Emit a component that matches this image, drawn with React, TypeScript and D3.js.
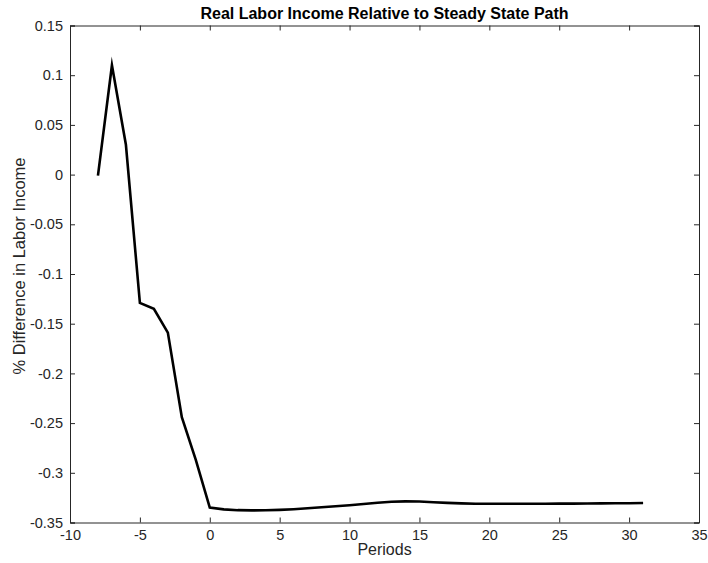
import React, { useEffect, useRef } from 'react';
import * as d3 from 'd3';

const periods = [-8, -7, -6, -5, -4, -3, -2, -1, 0, 1, 2, 3, 4, 5, 6, 7, 8, 9, 10, 11, 12, 13, 14, 15, 16, 17, 18, 19, 20, 21, 22, 23, 24, 25, 26, 27, 28, 29, 30, 31];
const laborIncome = [
  -0.001, 0.110, 0.030, -0.129, -0.135, -0.159, -0.244, -0.287, -0.335,
  -0.3368, -0.3376, -0.3378, -0.3377, -0.3373, -0.3366, -0.3357, -0.3347, -0.3337, -0.3326,
  -0.3314, -0.3302, -0.3292, -0.3287, -0.3289, -0.3296, -0.3303, -0.3308, -0.3311, -0.3312,
  -0.3312, -0.3312, -0.3311, -0.3311, -0.3310, -0.3310, -0.3309, -0.3308, -0.3307, -0.3306, -0.3304
];
const xTicks = [-10, -5, 0, 5, 10, 15, 20, 25, 30, 35];
const yTicks = [0.15, 0.1, 0.05, 0, -0.05, -0.1, -0.15, -0.2, -0.25, -0.3, -0.35];

const App = () => {
  const ref = useRef<SVGSVGElement>(null);

  useEffect(() => {
    if (!ref.current) return;
    const root = d3.select(ref.current);
    root.selectAll('*').remove();

    const margin = { top: 25.5, right: 9, bottom: 40.5, left: 70 };
    const W = 708, H = 563;
    const width = W - margin.left - margin.right;
    const height = H - margin.top - margin.bottom;
    const font = 'Helvetica, Arial, "Liberation Sans", sans-serif';
    const axisColor = '#262626';

    const x = d3.scaleLinear().domain([-10, 35]).range([0, width]);
    const y = d3.scaleLinear().domain([-0.35, 0.15]).range([height, 0]);

    root.append('rect').attr('width', W).attr('height', H).attr('fill', '#fff');

    const g = root.append('g').attr('transform', `translate(${margin.left},${margin.top})`);

    const fmt = (d: number) => (d === 0 ? '0' : String(+d.toFixed(2)));

    // bottom / left axes with inward ticks
    const xAxis = g.append('g')
      .attr('transform', `translate(0,${height})`)
      .call(d3.axisBottom(x).tickValues(xTicks).tickSize(-5).tickPadding(7).tickFormat(d => String(d)));
    const yAxis = g.append('g')
      .call(d3.axisLeft(y).tickValues(yTicks).tickSize(-5).tickPadding(7).tickFormat(d => fmt(+d)));
    // top / right mirrored ticks
    const xTop = g.append('g')
      .call(d3.axisTop(x).tickValues(xTicks).tickSize(-5).tickFormat(() => ''));
    const yRight = g.append('g')
      .attr('transform', `translate(${width},0)`)
      .call(d3.axisRight(y).tickValues(yTicks).tickSize(-5).tickFormat(() => ''));

    [xAxis, yAxis, xTop, yRight].forEach(a => {
      a.selectAll('path').attr('stroke', axisColor).attr('stroke-width', 1);
      a.selectAll('line').attr('stroke', axisColor).attr('stroke-width', 1);
      a.selectAll('text')
        .attr('fill', '#262626')
        .style('font-family', font)
        .style('font-size', '14.5px');
    });

    const line = d3.line<number>()
      .x((_, i) => x(periods[i]))
      .y(d => y(d));

    g.append('path')
      .datum(laborIncome)
      .attr('fill', 'none')
      .attr('stroke', '#000')
      .attr('stroke-width', 2.6)
      .attr('stroke-linejoin', 'miter')
      .attr('stroke-miterlimit', 12)
      .attr('d', line);

    g.append('text')
      .attr('x', width / 2)
      .attr('y', -6.5)
      .attr('text-anchor', 'middle')
      .attr('fill', '#000')
      .style('font-family', font)
      .style('font-size', '16px')
      .style('font-weight', 'bold')
      .text('Real Labor Income Relative to Steady State Path');

    g.append('text')
      .attr('x', width / 2)
      .attr('y', height + 32.5)
      .attr('text-anchor', 'middle')
      .attr('fill', '#262626')
      .style('font-family', font)
      .style('font-size', '16px')
      .text('Periods');

    g.append('text')
      .attr('transform', 'rotate(-90)')
      .attr('x', -(377 + 155) / 2 + margin.top)
      .attr('y', -margin.left + 24.5)
      .attr('text-anchor', 'middle')
      .attr('fill', '#262626')
      .style('font-family', font)
      .style('font-size', '16.5px')
      .text('% Difference in Labor Income');
  }, []);

  return (
    <svg
      ref={ref}
      width={708}
      height={563}
      style={{ position: 'absolute', left: 0, top: 0, display: 'block' }}
    />
  );
};

export default App;
